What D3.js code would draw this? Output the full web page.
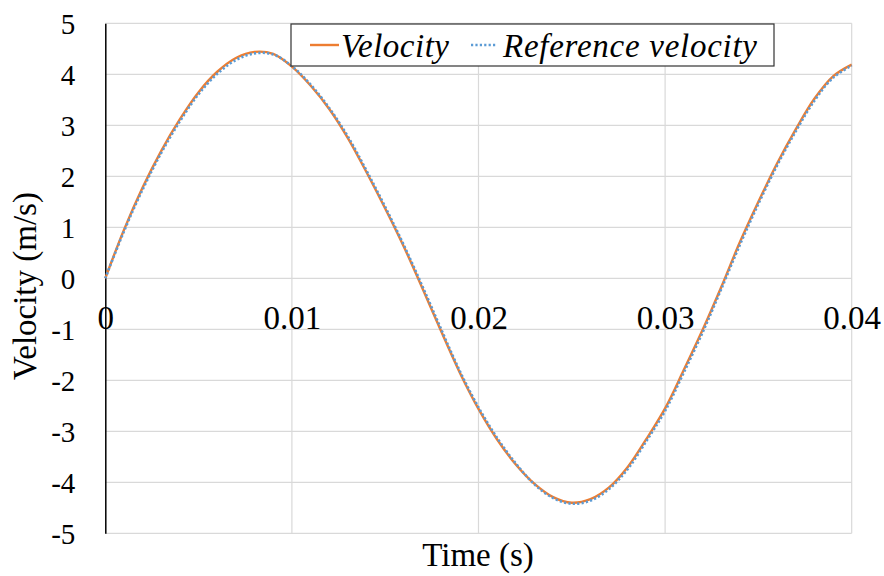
<!DOCTYPE html>
<html><head><meta charset="utf-8">
<script src="https://cdn.jsdelivr.net/npm/d3@7"></script>
<style>html,body{margin:0;padding:0;background:#fff;} svg text{font-family:"Liberation Serif","Times New Roman","DejaVu Serif",serif;}</style>
</head><body>
<svg id="chart" width="884" height="576"></svg>
<script>
const time = [0,0.001,0.002,0.003,0.004,0.005,0.006,0.007,0.008,0.009,0.010,0.011,0.012,0.013,0.014,0.015,0.016,0.017,0.018,0.019,0.020,0.021,0.022,0.023,0.024,0.025,0.026,0.027,0.028,0.029,0.030,0.031,0.032,0.033,0.034,0.035,0.036,0.037,0.038,0.039,0.040];
const velocity = [0,0.95,1.78,2.5,3.12,3.65,4.05,4.32,4.44,4.4,4.15,3.78,3.32,2.75,2.08,1.37,0.62,-0.2,-1.04,-1.85,-2.56,-3.16,-3.65,-4.03,-4.29,-4.4,-4.33,-4.1,-3.7,-3.15,-2.55,-1.8,-1.02,-0.18,0.7,1.5,2.25,2.92,3.52,3.96,4.19];
const referenceVelocity = [0,0.92,1.74,2.46,3.08,3.61,4.01,4.28,4.41,4.39,4.16,3.8,3.34,2.78,2.11,1.4,0.65,-0.16,-1.0,-1.82,-2.53,-3.13,-3.63,-4.04,-4.31,-4.42,-4.36,-4.13,-3.74,-3.19,-2.6,-1.85,-1.07,-0.22,0.65,1.46,2.21,2.88,3.48,3.93,4.17];
const xTicks = [0,0.01,0.02,0.03,0.04];
const xTickLabels = ["0","0.01","0.02","0.03","0.04"];
const yTicks = [5,4,3,2,1,0,-1,-2,-3,-4,-5];
const yTickLabels = ["5","4","3","2","1","0","-1","-2","-3","-4","-5"];
const seriesNames = ["Velocity","Reference velocity"];

const svg = d3.select("#chart");
const pLeft = 105.3, pRight = 851.7, pTop = 23.3, pBottom = 533.3;
const x = d3.scaleLinear().domain([0,0.04]).range([pLeft,pRight]);
const y = d3.scaleLinear().domain([-5,5]).range([pBottom,pTop]);
const serif = '"Liberation Serif","Times New Roman","DejaVu Serif",serif';

// gridlines
const g = svg.append("g");
g.selectAll(".hg").data(yTicks).join("line")
  .attr("x1",pLeft).attr("x2",pRight)
  .attr("y1",d=>y(d)).attr("y2",d=>y(d))
  .attr("stroke","#d9d9d9").attr("stroke-width",1.2);
g.selectAll(".vg").data(xTicks.slice(1)).join("line")
  .attr("x1",d=>x(d)).attr("x2",d=>x(d))
  .attr("y1",pTop).attr("y2",pBottom)
  .attr("stroke","#d9d9d9").attr("stroke-width",1.2);

// left axis
const yAxis = d3.axisLeft(y).tickValues(yTicks).tickSize(0).tickPadding(30).tickFormat((d,i)=>yTickLabels[i]);
const ya = svg.append("g").attr("transform",`translate(${pLeft},0)`).call(yAxis);
ya.attr("font-family",null);
ya.select(".domain").attr("stroke","#000").attr("stroke-width",1.5);
ya.selectAll("text").style("font-family",serif)
  .attr("font-size",29).attr("fill","#000").attr("dy","0.34em");

// x tick labels along zero line
const xAxis = d3.axisBottom(x).tickValues(xTicks).tickSize(0).tickPadding(0).tickFormat((d,i)=>xTickLabels[i]);
const xa = svg.append("g").attr("transform",`translate(0,${y(0)})`).call(xAxis);
xa.attr("font-family",null);
xa.select(".domain").remove();
xa.selectAll("text").style("font-family",serif)
  .attr("font-size",33).attr("fill","#000").attr("dy",null).attr("y",51);

// lines
const line = d3.line().x((d,i)=>x(time[i])).y(d=>y(d)).curve(d3.curveCatmullRom.alpha(0.5));
svg.append("path").datum(velocity).attr("d",line)
  .attr("fill","none").attr("stroke","#ED7D31").attr("stroke-width",2.4);
svg.append("path").datum(referenceVelocity).attr("d",line)
  .attr("fill","none").attr("stroke","#5B9BD5").attr("stroke-width",2.6)
  .attr("stroke-dasharray","2.2,2.2");

// axis titles
svg.append("text").attr("x",478).attr("y",566).attr("text-anchor","middle")
  .style("font-family",serif).attr("font-size",33)
  .text("Time (s)");
svg.append("text").attr("transform","translate(36,286) rotate(-90)").attr("text-anchor","middle")
  .style("font-family",serif).attr("font-size",33)
  .text("Velocity (m/s)");

// legend
const lg = svg.append("g");
lg.append("rect").attr("x",291).attr("y",24).attr("width",483).attr("height",42)
  .attr("fill","#fff").attr("stroke","#333").attr("stroke-width",1.2);
lg.append("line").attr("x1",310).attr("x2",339).attr("y1",45).attr("y2",45)
  .attr("stroke","#ED7D31").attr("stroke-width",2.4);
lg.append("line").attr("x1",471).attr("x2",497).attr("y1",45).attr("y2",45)
  .attr("stroke","#5B9BD5").attr("stroke-width",2.6).attr("stroke-dasharray","2.2,2.2");
lg.append("text").attr("x",341).attr("y",56.5)
  .style("font-family",serif).attr("font-style","italic")
  .attr("font-size",33).attr("textLength",108).attr("lengthAdjust","spacing").text(seriesNames[0]);
lg.append("text").attr("x",503).attr("y",56.5)
  .style("font-family",serif).attr("font-style","italic")
  .attr("font-size",33).attr("textLength",254).attr("lengthAdjust","spacing").text(seriesNames[1]);
</script>
</body></html>
